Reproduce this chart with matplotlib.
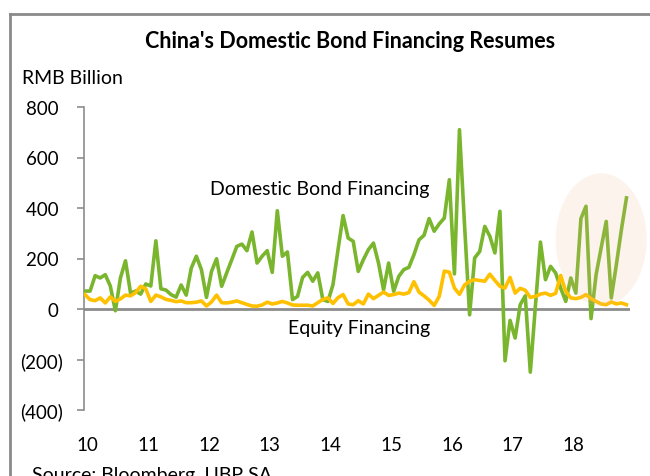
import matplotlib.pyplot as plt
from matplotlib.patches import Ellipse
from matplotlib.lines import Line2D
import numpy as np

plt.rcParams['font.family'] = ['Lato', 'DejaVu Sans']

# monthly issuance, Jan 2010 - Dec 2018, RMB bn
bond = [71, 71, 132, 123, 136, 91, -7, 123, 191, 63, 71, 59,
        99, 91, 270, 80, 75, 57, 47, 95, 55, 162, 209, 156,
        46, 149, 199, 90, 143, 195, 248, 257, 231, 305, 182, 209,
        231, 145, 389, 209, 226, 37, 50, 125, 145, 110, 143, 37,
        30, 96, 235, 370, 281, 268, 149, 195, 235, 261, 182, 76,
        182, 70, 129, 156, 165, 215, 274, 292, 358, 308, 337, 360,
        512, 139, 710, 334, -23, 202, 228, 327, 288, 222, 387, -205,
        -45, -115, 17, 52, -250, 10, 265, 116, 169, 143, 83, 30,
        123, 63, 358, 407, -38, 136, 242, 347, 44, 175, 314, 440]
equity = [57, 37, 33, 44, 24, 48, 30, 40, 55, 52, 65, 90,
          80, 30, 55, 48, 38, 34, 29, 32, 25, 25, 27, 32,
          12, 28, 55, 25, 24, 27, 32, 25, 18, 12, 11, 16,
          27, 20, 24, 30, 24, 16, 15, 15, 15, 12, 25, 38,
          44, 22, 45, 57, 20, 17, 33, 20, 59, 41, 54, 67,
          54, 57, 63, 59, 65, 108, 67, 52, 35, 14, 50, 150,
          146, 83, 58, 95, 110, 116, 113, 110, 138, 113, 90, 83,
          125, 63, 82, 74, 46, 50, 59, 63, 54, 62, 133, 70,
          44, 41, 46, 57, 41, 30, 20, 17, 28, 20, 24, 17]
years = ['10', '11', '12', '13', '14', '15', '16', '17', '18']
yticks = [-400, -200, 0, 200, 400, 600, 800]

months = np.arange(len(bond))

fig = plt.figure(figsize=(6.5, 4.77), dpi=100)
ax = fig.add_axes([84 / 650, 1 - 411 / 477, (630 - 84) / 650, (411 - 108) / 477])

gray = '#8c8c8c'
ax.axhline(0, color=gray, lw=2, zorder=1)
ax.plot(months, bond, color='#7ab52e', lw=2.6, zorder=3, solid_joinstyle='round')
ax.plot(months, equity, color='#ffc000', lw=2.6, zorder=4, solid_joinstyle='round')

# highlight of the latest rebound
ell = Ellipse((102, 275), 18, 525, facecolor='#f4b990', edgecolor='none',
              alpha=0.16, zorder=5, clip_on=False)
ax.add_patch(ell)

ax.set_xlim(-0.2, 107.7)
ax.set_ylim(-400, 800)
ax.set_yticks(yticks)
ax.set_yticklabels([f'({-v})' if v < 0 else f'{v} ' for v in yticks])
ax.set_xticks([])
for k, y in enumerate(years):
    ax.text(12 * k + 0.5, -0.085, y, transform=ax.get_xaxis_transform(),
            ha='center', va='top', fontsize=13.5)

for s in ['top', 'right', 'bottom']:
    ax.spines[s].set_visible(False)
ax.spines['left'].set_color(gray)
ax.spines['left'].set_linewidth(1.2)
ax.tick_params(axis='y', colors=gray, length=5, width=1.2, labelsize=13.5,
               labelcolor='black', pad=10)

ax.text(24.7, 479, 'Domestic Bond Financing', fontsize=14, ha='left', va='center')
ax.text(40.1, -75, 'Equity Financing', fontsize=14, ha='left', va='center')

fig.text(350 / 650, 1 - 42 / 477, "China's Domestic Bond Financing Resumes",
         ha='center', va='center', fontsize=15.5, fontweight='bold')
fig.text(22 / 650, 1 - 78 / 477, 'RMB Billion', ha='left', va='center', fontsize=14)
fig.text(32 / 650, 1 - 476 / 477, 'Source: Bloomberg, UBP SA', ha='left',
         va='center', fontsize=14)

# outer frame of the exhibit
fig.add_artist(Line2D([10 / 650, 10 / 650], [0, 1 - 15 / 477], color='#8a8a8a', lw=2))
fig.add_artist(Line2D([10 / 650, 1], [1 - 15 / 477, 1 - 15 / 477], color='#8a8a8a', lw=2))

fig.savefig('out.png', dpi=100)
